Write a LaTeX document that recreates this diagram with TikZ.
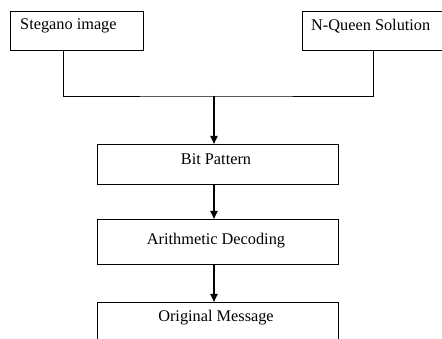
\documentclass[tikz,border=0pt]{standalone}
\usepackage{fontspec}
\setmainfont{Liberation Serif}
\usetikzlibrary{arrows.meta}
\begin{document}
\begin{tikzpicture}[x=1pt,y=-1pt,
  box/.style={draw, line width=0.9pt, inner sep=0pt, anchor=north west},
  lbl/.style={font=\fontsize{16.3}{19}\selectfont, inner sep=0pt},
  conn/.style={line width=0.9pt},
  arr/.style={line width=1.9pt, -{Triangle[length=8pt,width=7pt]}}]
\useasboundingbox (0,0) rectangle (442,339);
\clip (0,0) rectangle (442,339);
\fill[white] (0,0) rectangle (442,339);
% boxes
\node[box, minimum width=133pt, minimum height=39pt] (steg) at (10,11) {};
\node[box, minimum width=146pt, minimum height=39pt] (nq) at (302,11) {};
\node[box, minimum width=241pt, minimum height=40pt] (bit) at (97,144) {};
\node[box, minimum width=241pt, minimum height=45pt] (ari) at (97,219) {};
\node[box, minimum width=241pt, minimum height=60pt] (orig) at (97,302) {};
% labels
\node[lbl, anchor=west] (tsteg) at (20,26) {Stegano image};
\node[lbl, anchor=west] (tnq) at (311,26) {N-Queen Solution};
\node[lbl] (tbit) at (216,159) {Bit Pattern};
\node[lbl] (tari) at (216,241) {Arithmetic Decoding};
\node[lbl] (torig) at (216,318) {Original Message};
% connectors
\coordinate (j) at (214,96);
\draw[conn] ([xshift=-13.5pt]steg.south) |- (j) -| ([xshift=-2pt]nq.south);
\draw[arr] (j) -- (j |- bit.north);
\draw[arr] (j |- bit.south) -- (j |- ari.north);
\draw[arr] (j |- ari.south) -- (j |- orig.north);
\end{tikzpicture}
\end{document}
